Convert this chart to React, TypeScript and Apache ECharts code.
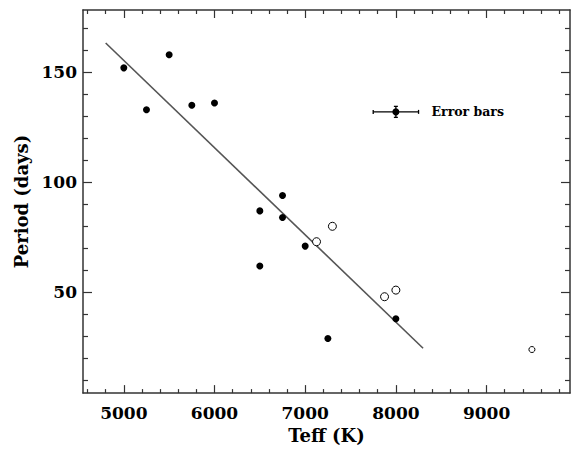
import React, { useEffect, useRef } from "react";
import * as echarts from "echarts";

const filledStars: [number, number][] = [
  [5000, 152], [5250, 133], [5500, 158], [5750, 135], [6000, 136],
  [6500, 87], [6500, 62], [6750, 94], [6750, 84], [7000, 71],
  [7250, 29], [8000, 38],
];
const openStars: [number, number][] = [
  [7125, 73], [7300, 80], [7875, 48], [8000, 51],
];
const smallOpenStars: [number, number][] = [[9500, 24]];
const fitLine: [number, number][] = [[4800, 163.3], [8300, 24.6]];
// [teff, period, teffError, periodError]
const errorSample: number[][] = [[8000, 132, 250, 2.5]];
const errorLabel = "Error bars";

const xMajorTicks = [5000, 6000, 7000, 8000, 9000];
const xMinorTicks = [4600, 4800, 5200, 5400, 5600, 5800, 6200, 6400, 6600, 6800, 7200, 7400, 7600, 7800, 8200, 8400, 8600, 8800, 9200, 9400, 9600, 9800];
const yMajorTicks = [50, 100, 150];
const yMinorTicks = [10, 20, 30, 40, 60, 70, 80, 90, 110, 120, 130, 140, 160, 170];

const X_MIN = 4550, X_MAX = 9920, Y_MIN = 4.2, Y_MAX = 178.3;
const FONT = "DejaVu Serif";
const AX = "#333";

export default function App() {
  const ref = useRef<HTMLDivElement>(null);
  useEffect(() => {
    document.body.style.margin = "0";
    const chart = echarts.init(ref.current!, null, { renderer: "svg" });
    const nameStyle = { fontSize: 18, fontWeight: "bold", fontFamily: FONT, color: "#000" };
    const labelStyle = { fontSize: 17, fontWeight: "bold", fontFamily: FONT, color: "#000" };
    const baseX = (pos: "bottom" | "top", ticks: number[], len: number, showLine: boolean, labels: boolean) => ({
      type: "value", position: pos, min: X_MIN, max: X_MAX,
      axisLine: { show: showLine, onZero: false, lineStyle: { color: AX, width: 1.5 } },
      axisTick: { show: true, inside: true, length: len, customValues: ticks, lineStyle: { color: AX, width: 1.2 } },
      axisLabel: labels
        ? { show: true, customValues: ticks, margin: 11, formatter: (v: number) => String(v), ...labelStyle }
        : { show: false },
      splitLine: { show: false },
      ...(labels && pos === "bottom"
        ? { name: "Teff (K)", nameLocation: "middle", nameGap: 32, nameTextStyle: nameStyle }
        : {}),
    });
    const baseY = (pos: "left" | "right", ticks: number[], len: number, showLine: boolean, labels: boolean) => ({
      type: "value", position: pos, min: Y_MIN, max: Y_MAX,
      axisLine: { show: showLine, onZero: false, lineStyle: { color: AX, width: 1.5 } },
      axisTick: { show: true, inside: true, length: len, customValues: ticks, lineStyle: { color: AX, width: 1.2 } },
      axisLabel: labels
        ? { show: true, customValues: ticks, margin: 6, formatter: (v: number) => String(v), ...labelStyle }
        : { show: false },
      splitLine: { show: false },
      ...(labels && pos === "left"
        ? { name: "Period (days)", nameLocation: "middle", nameRotate: 90, nameGap: 53, nameTextStyle: nameStyle }
        : {}),
    });
    chart.setOption({
      animation: false,
      backgroundColor: "#fff",
      grid: { left: 83, right: 1, top: 10, bottom: 55 },
      xAxis: [
        baseX("bottom", xMajorTicks, 8, true, true),
        baseX("bottom", xMinorTicks, 4, false, false),
        baseX("top", xMajorTicks, 8, true, false),
        baseX("top", xMinorTicks, 4, false, false),
      ],
      yAxis: [
        baseY("left", yMajorTicks, 9, true, true),
        baseY("left", yMinorTicks, 5, false, false),
        baseY("right", yMajorTicks, 9, true, false),
        baseY("right", yMinorTicks, 5, false, false),
      ],
      series: [
        {
          type: "line", data: fitLine, symbol: "none",
          lineStyle: { color: "#555", width: 1.6 }, z: 2,
        },
        {
          type: "scatter", data: filledStars, symbol: "circle", symbolSize: 7,
          itemStyle: { color: "#000", opacity: 1 }, z: 3,
        },
        {
          type: "scatter", data: openStars, symbol: "circle", symbolSize: 8,
          itemStyle: { color: "#fff", borderColor: "#000", borderWidth: 1, opacity: 1 }, z: 3,
        },
        {
          type: "scatter", data: smallOpenStars, symbol: "circle", symbolSize: 6,
          itemStyle: { color: "#fff", borderColor: "#000", borderWidth: 1, opacity: 1 }, z: 3,
        },
        {
          type: "custom", data: errorSample, z: 4,
          renderItem: (params: any, api: any) => {
            const x = api.value(0), y = api.value(1), ex = api.value(2), ey = api.value(3);
            const c = api.coord([x, y]);
            const l = api.coord([x - ex, y]);
            const r = api.coord([x + ex, y]);
            const t = api.coord([x, y + ey]);
            const b = api.coord([x, y - ey]);
            const ls = { stroke: "#000", lineWidth: 1.3 };
            return {
              type: "group",
              children: [
                { type: "line", shape: { x1: l[0], y1: l[1], x2: r[0], y2: r[1] }, style: ls },
                { type: "line", shape: { x1: l[0], y1: l[1] - 2, x2: l[0], y2: l[1] + 2 }, style: ls },
                { type: "line", shape: { x1: r[0], y1: r[1] - 2, x2: r[0], y2: r[1] + 2 }, style: ls },
                { type: "line", shape: { x1: t[0], y1: t[1], x2: b[0], y2: b[1] }, style: ls },
                { type: "line", shape: { x1: t[0] - 2, y1: t[1], x2: t[0] + 2, y2: t[1] }, style: ls },
                { type: "line", shape: { x1: b[0] - 2, y1: b[1], x2: b[0] + 2, y2: b[1] }, style: ls },
                { type: "circle", shape: { cx: c[0], cy: c[1], r: 3.5 }, style: { fill: "#000" } },
                {
                  type: "text",
                  style: {
                    x: r[0] + 13, y: r[1], text: errorLabel, fill: "#000",
                    font: `bold 12.5px "${FONT}"`, verticalAlign: "middle", align: "left",
                  },
                },
              ],
            };
          },
        },
      ],
    });
    return () => chart.dispose();
  }, []);
  return <div ref={ref} style={{ width: 571, height: 449 }} />;
}
